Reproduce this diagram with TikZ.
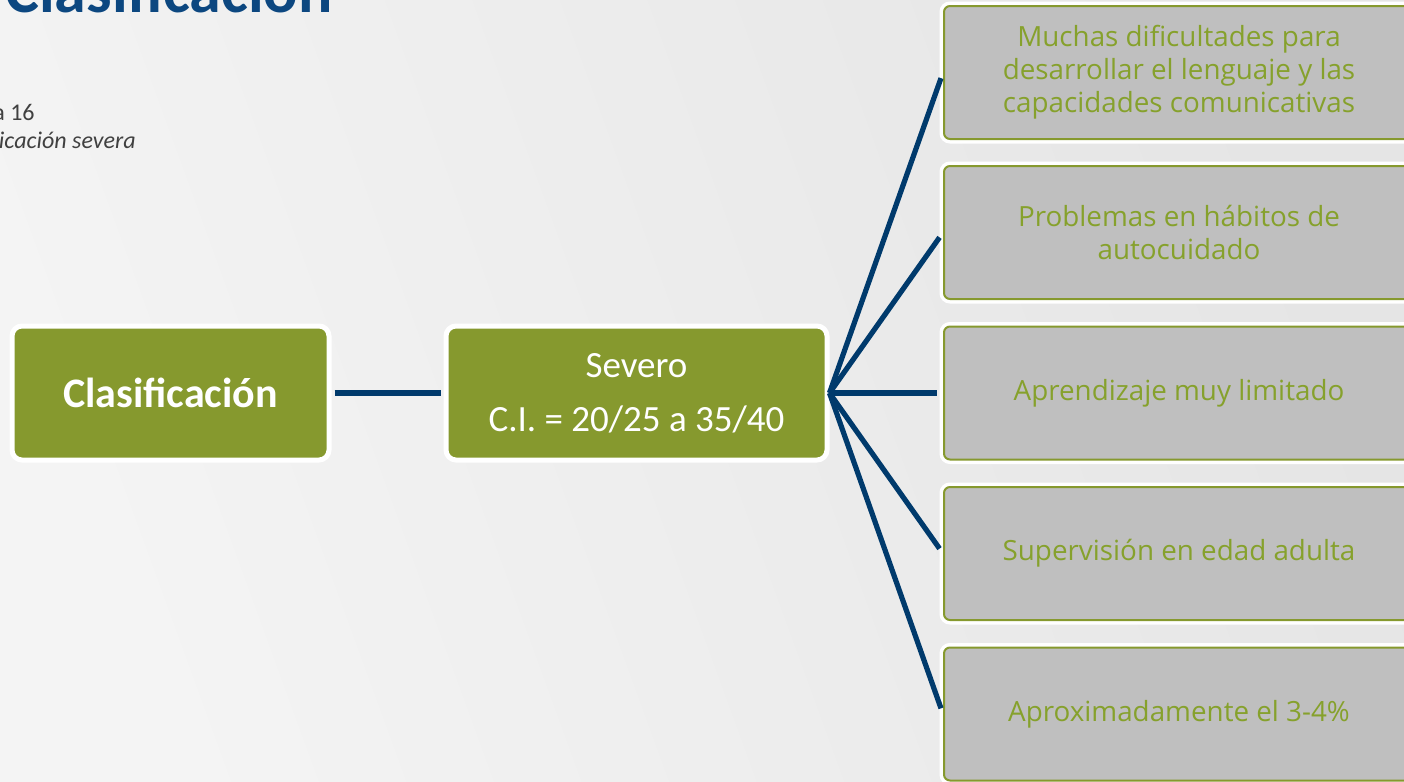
\documentclass[tikz,border=0pt]{standalone}
\usepackage{fontspec}
\setmainfont{Carlito}
\newfontfamily\itemfont{Open Sans}
\usepackage{tikz}
\definecolor{bglight}{HTML}{F4F4F4}
\definecolor{bgdark}{HTML}{E5E5E5}
\definecolor{olivebox}{HTML}{86992E}
\definecolor{olivetext}{HTML}{86A12C}
\definecolor{greybox}{HTML}{BFBFBF}
\definecolor{linkblue}{HTML}{003A6C}
\definecolor{titleblue}{HTML}{0C4780}
\definecolor{notegrey}{HTML}{404040}

\tikzset{
  greenbox/.style={fill=olivebox, draw=white, line width=2.5pt, rounded corners=5pt,
    text=white, align=center, minimum height=67pt},
  itembox/.style={fill=greybox, draw=olivebox, line width=1pt, rounded corners=3pt,
    preaction={draw=white, line width=4.5pt}, text=olivetext, align=center,
    minimum width=235pt, minimum height=66.5pt,
    font=\itemfont\fontsize{13.9}{16.5}\selectfont},
  link/.style={draw=linkblue, line width=2.6pt}
}

\begin{document}
\begin{tikzpicture}[x=0.5pt, y=-0.5pt]
\useasboundingbox (0,0) rectangle (1404,782);
\shade[shading=axis, left color=bglight, right color=bgdark, shading angle=110] (0,0) rectangle (1404,782);

% title and notes, cut by the page edge
\node[anchor=base west, inner sep=0, text=titleblue, font=\bfseries\fontsize{32}{36}\selectfont] (title) at (5,12) {Clasificación};
\node[anchor=base east, inner sep=0, text=notegrey, font=\fontsize{12}{14}\selectfont] (page) at (35,120) {a 16};
\node[anchor=base east, inner sep=0, text=notegrey, font=\itshape\fontsize{12}{14}\selectfont] (caption) at (136,148) {icación severa};

% green boxes
\node[greenbox, minimum width=158.5pt, font=\bfseries\fontsize{21}{25}\selectfont] (clasif) at (170.5,393) {Clasificación};
\node[greenbox, minimum width=190.5pt, font=\fontsize{18.5}{27}\selectfont] (severo) at (636.5,393) {Severo\\C.I. = 20/25 a 35/40};

% grey boxes
\node[itembox] (lenguaje) at (1179,72.5) {Muchas dificultades para\\desarrollar el lenguaje y las\\capacidades comunicativas};
\node[itembox] (cuidado) at (1179,232.5) {Problemas en hábitos de\\autocuidado};
\node[itembox] (aprend) at (1179,393) {Aprendizaje muy limitado};
\node[itembox] (superv) at (1179,553.5) {Supervisión en edad adulta};
\node[itembox] (porcent) at (1179,714) {Aproximadamente el 3-4\%};

% connectors
\draw[link, shorten <=1.5pt, shorten >=1.5pt] (clasif.east) -- (severo.west);
\draw[link, shorten >=3pt] (severo.east) -- (lenguaje.west);
\draw[link, shorten >=3pt] (severo.east) -- (cuidado.west);
\draw[link, shorten >=3pt] (severo.east) -- (aprend.west);
\draw[link, shorten >=3pt] (severo.east) -- (superv.west);
\draw[link, shorten >=3pt] (severo.east) -- (porcent.west);
\end{tikzpicture}
\end{document}
